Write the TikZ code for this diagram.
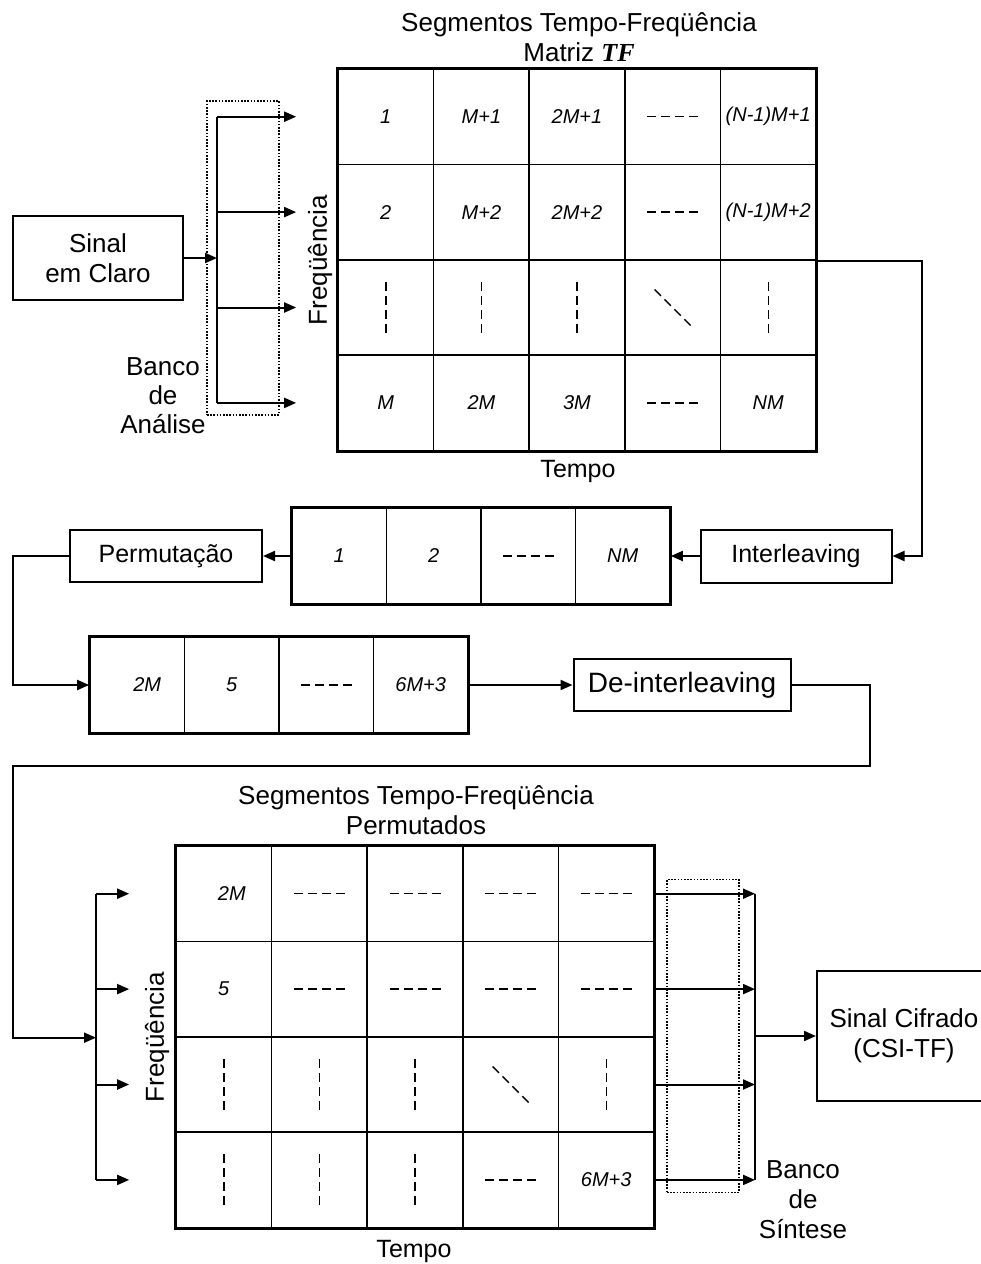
\documentclass[tikz,border=0pt]{standalone}
\usepackage{fontspec}
\setmainfont{Liberation Sans}
\newfontfamily\tfserif{Liberation Serif}
\usetikzlibrary{arrows, arrows.meta, positioning}

\begin{document}
\begin{tikzpicture}[x=1pt,y=-1pt,line width=2pt,
    lab/.style={font=\fontsize{26}{30}\selectfont,align=center,inner sep=0pt},
    box/.style={draw,font=\fontsize{25}{30}\selectfont,align=center,inner sep=0pt},
    cell/.style={draw,line width=1.7pt,minimum width=95.6pt,minimum height=95.4pt,inner sep=0pt,font=\fontsize{20}{24}\selectfont\itshape},
    seg/.style={cell,minimum width=94.5pt},
    dsh/.style={line width=1.4pt,dash pattern=on 9pt off 5pt},
    arr/.style={-{Triangle[length=12pt,width=10pt]}},
    bank/.style={draw,line width=1.6pt,dash pattern=on 1.6pt off 1.6pt,inner sep=0pt}]
    \useasboundingbox (0,0) rectangle (981,1264);

    \node[lab] (ttl1) at (579,37) {Segmentos Tempo-Freqüência\\Matriz {\tfserif\bfseries\itshape TF}};
    \foreach \c/\r/\t in {1/1/1,2/1/M+1,3/1/2M+1,4/1/{},5/1/{(N-1)M+1},
        1/2/2,2/2/M+2,3/2/2M+2,4/2/{},5/2/{(N-1)M+2},
        1/3/{},2/3/{},3/3/{},4/3/{},5/3/{},
        1/4/M,2/4/2M,3/4/3M,4/4/{},5/4/NM}
    \node[cell] (t\c\r) at ({338+95.6*(\c-0.5)},{69+95.4*(\r-0.5)}) {\t};
    \draw[line width=2.6pt] (t11.north west) rectangle (t54.south east);
    \foreach \n in {t41,t42,t44} \draw[dsh] ([xshift=-25.5pt]\n.center) -- ([xshift=25.5pt]\n.center);
    \foreach \n in {t13,t23,t33,t53} \draw[dsh] ([yshift=25.5pt]\n.center) -- ([yshift=-25.5pt]\n.center);
    \draw[dsh] ([xshift=-18pt,yshift=18pt]t43.center) -- ([xshift=18pt,yshift=-18pt]t43.center);
    \node[lab,rotate=90] (fq1) at (320,260) {Freqüência};
    \node[lab,font=\fontsize{25}{30}\selectfont] (tp1) at (578,471) {Tempo};

    \node[box,font=\fontsize{26}{30}\selectfont,minimum width=170pt,minimum height=84pt] (src) at (98,258) {Sinal\\em Claro};
    \coordinate (ab) at (217,0);
    \node[bank,minimum width=72pt,minimum height=314pt] (abk) at (243,258) {};
    \draw (ab |- t11) -- (ab |- t14);
    \foreach \r in {1,...,4} \draw[arr] (ab |- t1\r) -- ([xshift=-41pt]t1\r.west);
    \draw[arr] (src) -- (ab |- src);
    \node[lab,font=\fontsize{26}{29}\selectfont] (abl) at (163,396) {Banco\\de\\Análise};

    \node[box,minimum width=191pt,minimum height=53pt] (il) at (796,556) {Interleaving};
    \coordinate (rt) at (922,0);
    \draw[arr] (t52.south east) -| (rt |- il) -- (il);
    \foreach \c/\t in {1/1,2/2,3/{},4/NM}
    \node[seg] (m\c) at ({292+94.5*(\c-0.5)},556) {\t};
    \draw (m1.north west) rectangle (m4.south east);
    \draw[dsh] ([xshift=-25.5pt]m3.center) -- ([xshift=25.5pt]m3.center);
    \draw[arr] (il) -- (m4);
    \node[box,minimum width=192pt,minimum height=52pt] (perm) at (166,556) {Permutação};
    \draw[arr] (m1) -- (perm);

    \foreach \c/\t in {1/{\hspace*{20pt}2M},2/5,3/{},4/6M+3}
    \node[seg] (p\c) at ({90+94.5*(\c-0.5)},685) {\t};
    \draw (p1.north west) rectangle (p4.south east);
    \draw[dsh] ([xshift=-25.5pt]p3.center) -- ([xshift=25.5pt]p3.center);
    \coordinate (lft) at (13,0);
    \draw[arr] (perm) -- (lft |- perm) |- (p1);
    \node[box,font=\fontsize{28}{30}\selectfont,minimum width=217pt,minimum height=52pt] (dil) at (682,685) {De-interleaving};
    \draw[arr] (p4) -- (dil);

    \node[lab] (ttl2) at (416,810) {Segmentos Tempo-Freqüência\\Permutados};
    \foreach \c/\r/\t in {1/1/{\hspace*{16pt}2M},2/1/{},3/1/{},4/1/{},5/1/{},
        1/2/5,2/2/{},3/2/{},4/2/{},5/2/{},
        1/3/{},2/3/{},3/3/{},4/3/{},5/3/{},
        1/4/{},2/4/{},3/4/{},4/4/{},5/4/6M+3}
    \node[cell] (b\c\r) at ({176+95.6*(\c-0.5)},{846+95.4*(\r-0.5)}) {\t};
    \draw[line width=2.6pt] (b11.north west) rectangle (b54.south east);
    \foreach \n in {b21,b31,b41,b51,b22,b32,b42,b52,b44} \draw[dsh] ([xshift=-25.5pt]\n.center) -- ([xshift=25.5pt]\n.center);
    \foreach \n in {b13,b23,b33,b53,b14,b24,b34} \draw[dsh] ([yshift=25.5pt]\n.center) -- ([yshift=-25.5pt]\n.center);
    \draw[dsh] ([xshift=-18pt,yshift=18pt]b43.center) -- ([xshift=18pt,yshift=-18pt]b43.center);
    \node[lab,rotate=90] (fq2) at (157,1037) {Freqüência};
    \node[lab,font=\fontsize{25}{30}\selectfont] (tp2) at (414,1251) {Tempo};

    \coordinate (dr) at (870,766);
    \coordinate (bb) at (96,0);
    \draw[arr] (dil) -| (dr) -| (lft |- b12.south) -- (bb |- b12.south);
    \draw (bb |- b11) -- (bb |- b14);
    \foreach \r in {1,...,4} \draw[arr] (bb |- b1\r) -- ([xshift=-46pt]b1\r.west);

    \coordinate (sb) at (755,0);
    \node[bank,minimum width=72pt,minimum height=313pt] (sbk) at (703,1036) {};
    \foreach \r in {1,...,4} \draw[arr] (b5\r.east) -- (sb |- b5\r);
    \draw (sb |- b51) -- (sb |- b54);
    \node[box,font=\fontsize{26}{30}\selectfont,minimum width=174pt,minimum height=130pt] (dst) at (904,1036) {Sinal Cifrado\\(CSI-TF)};
    \draw[arr] (sb |- dst) -- (dst);
    \node[lab] (sbl) at (803,1200) {Banco\\de\\Síntese};
\end{tikzpicture}
\end{document}
